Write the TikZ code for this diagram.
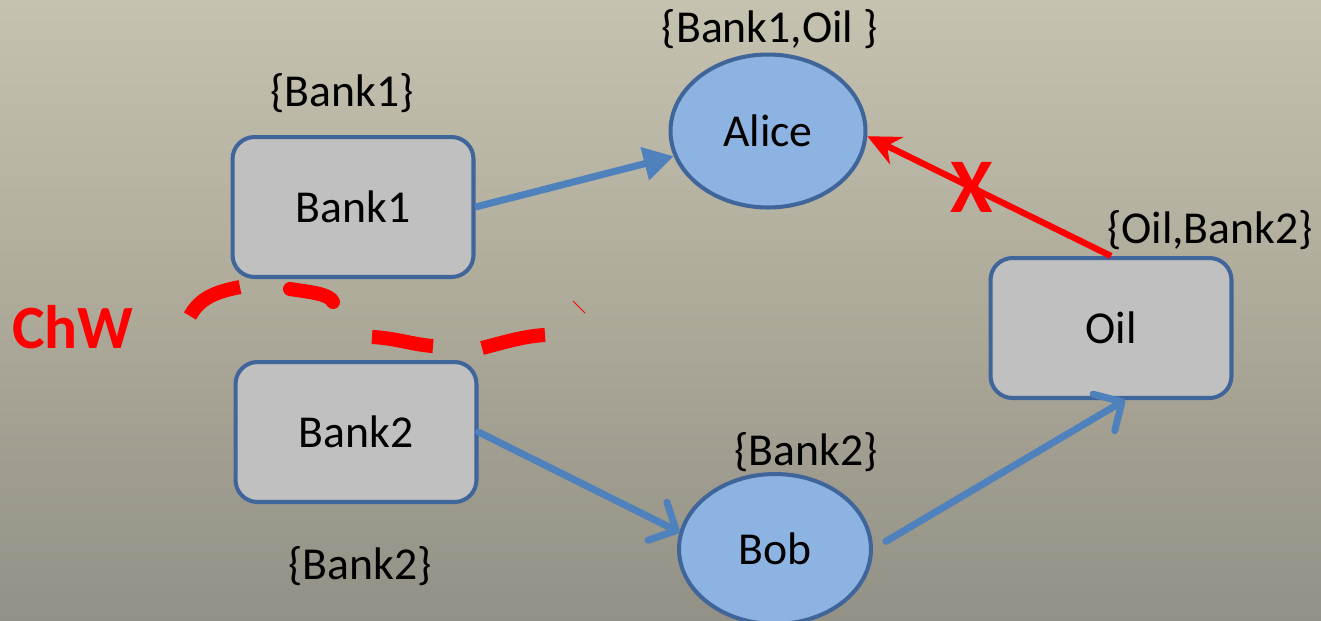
\documentclass[tikz,border=0pt]{standalone}
\usepackage{fontspec}
\setmainfont{Carlito}
\usetikzlibrary{arrows.meta,shapes.geometric}
\definecolor{bgA}{HTML}{C5C2B0}
\definecolor{bgB}{HTML}{ADAA9A}
\definecolor{bgC}{HTML}{939086}
\definecolor{boxfill}{HTML}{C0C0C0}
\definecolor{edgeblue}{HTML}{3F659A}
\definecolor{ellfill}{HTML}{8DB3E2}
\definecolor{arrblue}{HTML}{4F81BD}
\definecolor{redc}{HTML}{FF0000}
\pgfdeclareverticalshading{bgv}{100bp}{color(0bp)=(bgC); color(25bp)=(bgC); color(50bp)=(bgB); color(75bp)=(bgA); color(100bp)=(bgA)}
\tikzset{
  lbl/.style={font=\fontsize{26}{30}\selectfont, inner sep=0pt},
  bankbox/.style={draw=edgeblue, fill=boxfill, line width=2.3pt, rounded corners=0.44cm,
    minimum width=4.82cm, minimum height=2.8cm, inner sep=0pt, font=\fontsize{26}{30}\selectfont},
  agent/.style={ellipse, draw=edgeblue, fill=ellfill, line width=2.3pt, inner sep=0pt,
    font=\fontsize{26}{30}\selectfont},
  flow/.style={draw=arrblue, line width=4pt},
  redline/.style={draw=redc, line width=3.6pt},
  chw/.style={draw=redc, line width=8pt},
}
\begin{document}
\begin{tikzpicture}[x=0.02cm,y=-0.02cm]
\useasboundingbox (0,0) rectangle (1321,620);
\shade[shading=bgv] (0,0) rectangle (1321,620);
% nodes
\node[bankbox] (b1) at (353,207) {Bank1};
\node[bankbox] (b2) at (356,432) {Bank2};
\node[bankbox] (oil) at (1111,328) {Oil};
\node[agent, minimum width=3.9cm, minimum height=3.06cm] (alice) at (768,131) {Alice};
\node[agent, minimum width=3.84cm, minimum height=3.0cm] (bob) at (775,549) {Bob};
% labels
\node[lbl] (l1) at (770,29) {\{Bank1,Oil \}};
\node[lbl] (l2) at (342,93) {\{Bank1\}};
\node[lbl] (l3) at (1210,230) {\{Oil,Bank2\}};
\node[lbl] (l4) at (806,452) {\{Bank2\}};
\node[lbl] (l5) at (360,566) {\{Bank2\}};
\node[inner sep=0pt, text=redc, font=\fontsize{35}{40}\selectfont\bfseries] (chwl) at (73,327) {ChW};
% connectors
\draw[flow, -{Triangle[length=0.6cm,width=0.65cm]}] (b1.east) -- (alice.195);
\draw[flow, line cap=round, -{Straight Barb[length=0.42cm,width=0.85cm,round]}] (b2.east) -- (bob.170);
\draw[flow, line cap=round, shorten <=0.3cm, -{Straight Barb[length=0.42cm,width=0.85cm,round]}] (bob.east) -- ([xshift=0.28cm]oil.south);
\draw[redline, -{Stealth[length=0.65cm,width=0.6cm]}] (oil.north) -- (alice.-3)
  node[pos=0.57, inner sep=0pt, text=redc, font=\fontsize{44}{48}\selectfont\bfseries] (x) {X};
% ChW dashed boundary
\draw[chw] (190,316) .. controls (200,298) and (215,292) .. (240,287);
\draw[chw, line cap=round] (290,289) .. controls (310,292) and (330,294) .. (333,302);
\draw[chw] (372,337) .. controls (395,338) and (415,345) .. (433,346);
\draw[chw] (482,348) .. controls (505,342) and (525,336) .. (545,335);
\draw[draw=redc, line width=0.5pt] (573,301) -- (585,313);
\end{tikzpicture}
\end{document}
